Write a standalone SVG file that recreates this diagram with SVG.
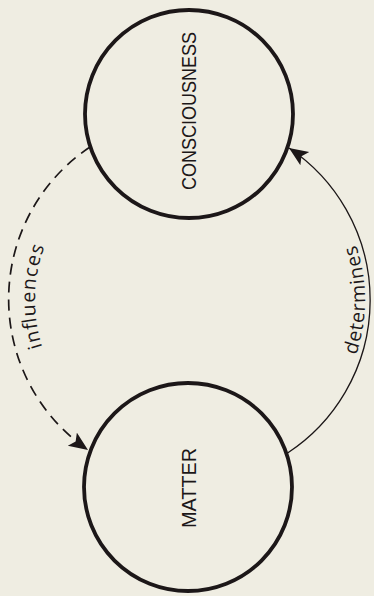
<svg xmlns="http://www.w3.org/2000/svg" width="374" height="596" viewBox="0 0 374 596">
  <style>
    .node { fill: none; stroke: #1c1718; stroke-width: 3.8; }
    .caps { font-family: "Liberation Sans", Arial, sans-serif; font-size: 20px; fill: #1c1718; text-anchor: middle; }
    .edge { fill: none; stroke: #1c1718; }
    .dashed { stroke-width: 1.7; stroke-dasharray: 11 7; }
    .solid { stroke-width: 1.3; }
    .lbl { font-family: "Open Sans", "DejaVu Sans", sans-serif; font-size: 19.5px; fill: #1c1718; text-anchor: middle; }
  </style>
  <defs>
    <marker id="arrow" markerUnits="userSpaceOnUse" markerWidth="22" markerHeight="18" refX="19" refY="8" orient="auto">
      <path d="M0,0 L19,8 L0,16 L4,8 Z" fill="#1c1718"/>
    </marker>
    <path id="p-influences" d="M 55.6 377 A 154 154 0 0 1 55.6 223"/>
    <path id="p-determines" d="M 341.4 388 A 176 176 0 0 0 341.4 212"/>
  </defs>
  <rect width="374" height="596" fill="#efede2"/>

  <g id="node-consciousness">
    <circle class="node" cx="189" cy="114" r="104"/>
    <text class="caps" transform="translate(196,111) rotate(-90)" textLength="158" lengthAdjust="spacingAndGlyphs">CONSCIOUSNESS</text>
  </g>

  <g id="node-matter">
    <circle class="node" cx="188" cy="487" r="104"/>
    <text class="caps" transform="translate(196,488) rotate(-90)" textLength="80" lengthAdjust="spacingAndGlyphs">MATTER</text>
  </g>

  <g id="connectors">
    <path id="edge-influences" class="edge dashed" d="M 90 147 A 183 183 0 0 0 88 450" marker-end="url(#arrow)"/>
    <path id="edge-determines" class="edge solid" d="M 287.6 453 A 183 183 0 0 0 289 148" marker-end="url(#arrow)"/>
    <text class="lbl" textLength="102" lengthAdjust="spacing"><textPath href="#p-influences" startOffset="52%">influences</textPath></text>
    <text class="lbl" textLength="112" lengthAdjust="spacing"><textPath href="#p-determines" startOffset="50%">determines</textPath></text>
  </g>
</svg>
